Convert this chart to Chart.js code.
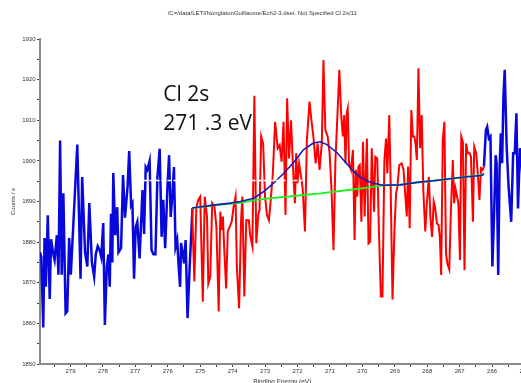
<!DOCTYPE html>
<html>
<head>
<meta charset="utf-8">
<script src="https://cdn.jsdelivr.net/npm/chart.js@4"></script>
<style>
  html, body { margin: 0; padding: 0; overflow: hidden; background: #fff; }
  canvas { display: block; }
</style>
</head>
<body>
<canvas id="spectrum" width="538" height="390"></canvas>
<script>
// raw counts outside the fitted window (left side, high binding energy)
const leftEnergy = [279.94,279.90,279.84,279.80,279.76,279.70,279.64,279.60,279.53,279.49,279.42,279.37,279.32,279.27,279.22,279.15,279.10,279.04,278.99,278.91,278.79,278.69,278.64,278.55,278.48,278.42,278.34,278.27,278.22,278.16,278.10,278.05,277.99,277.94,277.88,277.83,277.79,277.75,277.71,277.68,277.62,277.56,277.52,277.44,277.38,277.32,277.24,277.19,277.13,277.09,277.04,276.99,276.94,276.87,276.82,276.78,276.73,276.68,276.63,276.56,276.50,276.44,276.38,276.32,276.25,276.19,276.14,276.08,276.01,275.96,275.91,275.85,275.81,275.76,275.71,275.67,275.62,275.59,275.54,275.50,275.45,275.39,275.33,275.28,275.24];
const leftCounts = [1877.5,1876.3,1859,1881,1869,1886.6,1866,1880.7,1877,1875.6,1881.7,1872,1905,1872,1892,1862.5,1863,1881,1872,1884.7,1904,1871,1896,1877.5,1874,1889.6,1875,1871.5,1877,1879,1878,1876.3,1884.7,1859.6,1874,1877,1869,1887,1875,1897,1881.7,1888.6,1877.5,1878.5,1896.5,1886,1893.6,1902.4,1889,1889.6,1871,1883.7,1885,1876,1885.4,1892.8,1882,1898.5,1897.8,1900,1878,1877,1877,1895.8,1903,1881.3,1890.4,1878.5,1893.6,1901.4,1886.2,1892.3,1898.5,1878.8,1880.5,1874.8,1869,1879.8,1877.3,1874.8,1880.5,1861.3,1873.1,1881.3,1888.4];

// raw counts inside the fitted window (red)
const fitEnergy = [275.25,275.18,275.12,275.06,275.00,274.92,274.86,274.79,274.75,274.69,274.63,274.56,274.50,274.43,274.38,274.34,274.30,274.26,274.20,274.15,274.09,274.03,273.97,273.91,273.87,273.80,273.74,273.70,273.64,273.58,273.50,273.46,273.39,273.33,273.27,273.21,273.17,273.12,273.06,273.00,272.94,272.88,272.82,272.76,272.69,272.61,272.55,272.49,272.43,272.37,272.32,272.26,272.20,272.14,272.08,272.04,272.00,271.95,271.89,271.84,271.77,271.71,271.63,271.57,271.51,271.44,271.38,271.32,271.25,271.20,271.14,271.07,271.01,270.95,270.89,270.83,270.77,270.71,270.65,270.60,270.56,270.52,270.48,270.45,270.41,270.35,270.29,270.24,270.20,270.16,270.12,270.08,270.03,269.98,269.93,269.86,269.81,269.76,269.71,269.64,269.60,269.54,269.49,269.43,269.38,269.32,269.27,269.23,269.17,269.13,269.07,269.01,268.96,268.92,268.86,268.79,268.73,268.67,268.63,268.59,268.54,268.49,268.44,268.40,268.36,268.32,268.27,268.22,268.17,268.12,268.06,268.01,267.95,267.90,267.85,267.80,267.76,267.70,267.65,267.61,267.57,267.52,267.47,267.42,267.38,267.32,267.27,267.21,267.17,267.13,267.09,267.04,266.99,266.95,266.90,266.85,266.80,266.75,266.70,266.65,266.59,266.55,266.49,266.44,266.39,266.34,266.29,266.25];
const fitCounts = [1888.4,1870.3,1888.4,1890.4,1891.2,1865.3,1891.2,1886.3,1869.8,1871.5,1889.6,1888.7,1883.8,1862.9,1887.5,1883,1886.3,1878.5,1868.6,1882.6,1883.8,1885,1888.7,1891.2,1874,1863.7,1885.4,1891.2,1866.6,1885.4,1885.4,1881.7,1878.9,1916,1879.7,1886.7,1887.9,1906,1904.3,1891.2,1886.7,1885.4,1890.8,1896.9,1909.6,1903.1,1903.9,1899.8,1909.6,1886.7,1915.4,1900.6,1910,1898.6,1889.6,1901.9,1894.5,1899.4,1896.1,1893.2,1882.6,1905.1,1914.6,1910,1906,1899.4,1904.3,1897.8,1904.3,1924.8,1907.6,1906,1901.9,1892.8,1878,1900.2,1910.9,1922.4,1910.9,1906,1911.3,1899.4,1911.7,1912.9,1899.4,1897.8,1902.7,1880.5,1897.8,1891.2,1898.6,1899,1885,1904.7,1886.3,1905.5,1879.7,1880.1,1903.1,1887.5,1901,1900.6,1883,1866.6,1866.6,1900.2,1905.5,1896.9,1911.3,1895.3,1865.9,1883,1892,1893.6,1899,1899.4,1897.8,1890.8,1886.3,1898.6,1883.4,1912.5,1906,1906,1904.3,1900.2,1922.8,1903.1,1911.3,1892.8,1882.6,1889.6,1896.1,1885.9,1881.3,1890,1888.7,1884.6,1884.2,1881.3,1871.9,1905.1,1909.6,1877.2,1874.8,1873.3,1887.5,1900.2,1889.6,1893.2,1891.6,1889.6,1875.6,1906,1904.7,1873.1,1904.3,1901.9,1902,1901,1885,1903.5,1901.9,1896.9,1890.4,1898.2,1897.8,1898.6];

// raw counts after the window (right side)
const rightEnergy = [266.25,266.19,266.15,266.10,266.05,265.99,265.94,265.89,265.86,265.81,265.77,265.73,265.69,265.65,265.61,265.55,265.49,265.41,265.35,265.30,265.25,265.20,265.14,265.09,265.04];
const rightCounts = [1898.6,1907.6,1908.4,1905.5,1906,1874,1886.3,1901.4,1899.4,1871.9,1897.8,1906.8,1899.4,1915.8,1922.4,1903.5,1893.6,1885,1901.9,1901.9,1911.7,1888.3,1903.1,1900,1892];

// fit envelope and Shirley background
const envEnergy = [275.25,274.59,274.07,273.76,273.35,273.05,272.74,272.43,272.12,271.81,271.51,271.30,271.09,270.78,270.48,270.27,270.07,269.86,269.66,269.35,268.83,268.32,267.81,267.29,266.78,266.32,266.25];
const envCounts = [1888.4,1889.1,1889.6,1890,1890.8,1892.4,1894.5,1896.9,1899.6,1902.8,1904.4,1904.7,1904,1902,1899.3,1897.4,1896,1895.1,1894.5,1894,1894.1,1894.7,1895.1,1895.6,1896.1,1896.4,1896.9];
const bgEnergy = [275.25,274.59,273.76,273.25,272.84,272.32,271.81,271.30,270.68,270.17,269.66,269.35,268.83,268.32,267.81,267.29,266.78,266.25];
const bgCounts = [1888.4,1889.1,1889.7,1890.4,1890.8,1891.2,1891.6,1892,1892.6,1893.1,1893.6,1894,1894.1,1894.7,1895.1,1895.6,1896.1,1896.6];

// white dashed line left over from the text box
const boxEnergy = [276.75, 271.85];
const boxCounts = [1895.2, 1895.2];

// peak label
const noteLines = ['Cl 2s', '271 .3 eV'];
const noteEnergy = 276.14;
const noteCounts = 1914.7;

const titleText = '/C=/data/LETI/NonglatonGuillaume/Ech2-3.dset. Not Specified Cl 2s/11';

function pairs(xs, ys) {
    return xs.map((x, i) => ({ x: x, y: ys[i] }));
}

function line(data, color, width, extra) {
    return Object.assign({
        data: data,
        borderColor: color,
        borderWidth: width,
        pointRadius: 0,
        tension: 0,
        fill: false
    }, extra || {});
}

// draws the "Cl 2s / 271.3 eV" label, anchored through the scales
const notePlugin = {
    id: 'note',
    afterDatasetsDraw(chart) {
        const ctx = chart.ctx;
        const x = chart.scales.x.getPixelForValue(noteEnergy);
        const y = chart.scales.y.getPixelForValue(noteCounts);
        ctx.save();
        ctx.font = '21px "Open Sans"';
        ctx.fillStyle = '#111';
        ctx.textAlign = 'left';
        ctx.textBaseline = 'alphabetic';
        noteLines.forEach((t, i) => ctx.fillText(t, x, y + i * 29));
        ctx.restore();
    }
};

const tickFont = { family: 'Liberation Sans', size: 6 };

new Chart(document.getElementById('spectrum'), {
    type: 'line',
    data: {
        datasets: [
            line(pairs(boxEnergy, boxCounts), '#ffffff', 1.5, { borderDash: [4, 2] }),
            line(pairs(envEnergy, envCounts), '#1a1ab8', 1.6),
            line(pairs(bgEnergy, bgCounts), '#22ee22', 2),
            line(pairs(fitEnergy, fitCounts), '#ff0000', 2),
            line(pairs(leftEnergy, leftCounts), '#0808dc', 2.5),
            line(pairs(rightEnergy, rightCounts), '#0808dc', 2.5)
        ]
    },
    options: {
        responsive: false,
        animation: false,
        layout: { padding: { left: 0, right: 13.5, top: 0, bottom: 0 } },
        plugins: {
            legend: { display: false },
            tooltip: { enabled: false },
            title: {
                display: true,
                text: titleText,
                color: '#333',
                font: { family: 'Liberation Sans', size: 6, weight: 'normal' },
                padding: { top: 10, bottom: 21.8 }
            }
        },
        scales: {
            x: {
                type: 'linear',
                reverse: true,
                min: 265,
                max: 279.94,
                border: { display: true, color: '#8a8a8a', width: 2 },
                grid: { drawOnChartArea: false, drawTicks: true, tickLength: 3, color: '#444' },
                ticks: {
                    stepSize: 0.5,
                    includeBounds: false,
                    autoSkip: false,
                    maxRotation: 0,
                    minRotation: 0,
                    padding: 1,
                    color: '#333',
                    font: tickFont,
                    callback: (v) => Number.isInteger(v) ? String(v) : ''
                },
                title: {
                    display: true,
                    text: 'Binding Energy (eV)',
                    color: '#333',
                    font: { family: 'Liberation Sans', size: 6.5 },
                    padding: { top: 0, bottom: 4 }
                },
                afterFit(scale) { scale.height = 26; }
            },
            y: {
                type: 'linear',
                min: 1850,
                max: 1930,
                border: { display: true, color: '#8a8a8a', width: 2 },
                grid: { drawOnChartArea: false, drawTicks: true, tickLength: 3, color: '#444' },
                ticks: {
                    stepSize: 5,
                    autoSkip: false,
                    padding: 1.5,
                    color: '#333',
                    font: tickFont,
                    callback: (v) => v % 10 === 0 ? String(v) : ''
                },
                title: {
                    display: true,
                    text: 'Counts / s',
                    color: '#333',
                    font: { family: 'Liberation Sans', size: 6 },
                    padding: { top: 10, bottom: 0 }
                },
                afterFit(scale) { scale.width = 40; }
            }
        }
    },
    plugins: [notePlugin]
});
</script>
</body>
</html>
